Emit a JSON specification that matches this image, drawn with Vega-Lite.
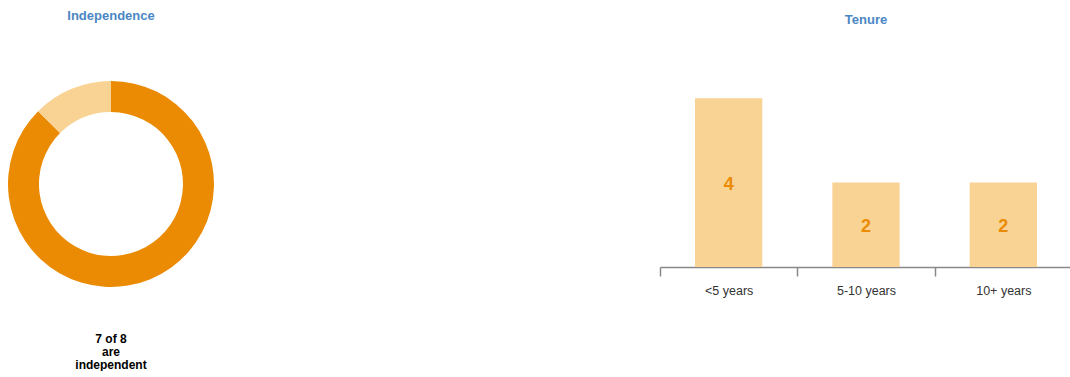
{
  "$schema": "https://vega.github.io/schema/vega-lite/v6.json",
  "padding": {"left": 0, "top": 10, "right": 0, "bottom": 0},
  "background": "white",
  "config": {"view": {"stroke": null}, "font": "Liberation Sans"},
  "bounds": "flush",
  "spacing": 660,
  "hconcat": [
    {
      "bounds": "flush",
      "spacing": 12,
      "vconcat": [
        {
          "width": 222,
          "height": 256,
          "title": {"text": "Independence", "fontSize": 13, "fontWeight": "bold", "color": "#4a87c4", "anchor": "middle", "offset": 33, "font": "Liberation Sans"},
          "data": {"values": [
            {"group": "Independent", "count": 7},
            {"group": "Not independent", "count": 1}
          ]},
          "mark": {"type": "arc", "outerRadius": 103, "innerRadius": 72},
          "encoding": {
            "theta": {"field": "count", "type": "quantitative", "stack": true},
            "color": {"field": "group", "type": "nominal", "scale": {"domain": ["Independent", "Not independent"], "range": ["#eb8b03", "#f9d394"]}, "legend": null}
          }
        },
        {
          "width": 222,
          "height": 30,
          "data": {"values": [{"caption": "7 of 8\nare\nindependent"}]},
          "mark": {"type": "text", "lineBreak": "\n", "fontSize": 12, "fontWeight": "bold", "color": "#000000", "lineHeight": 13, "baseline": "middle", "align": "center", "font": "Liberation Sans"},
          "encoding": {"text": {"field": "caption", "type": "nominal"}}
        }
      ]
    },
    {
      "width": 412,
      "height": 211,
      "title": {"text": "Tenure", "fontSize": 13, "fontWeight": "bold", "color": "#4a87c4", "anchor": "middle", "offset": 29, "font": "Liberation Sans"},
      "data": {"values": [
        {"tenure": "<5 years", "count": 4},
        {"tenure": "5-10 years", "count": 2},
        {"tenure": "10+ years", "count": 2}
      ]},
      "encoding": {
        "x": {"field": "tenure", "type": "nominal", "sort": null, "title": null,
          "scale": {"paddingInner": 0, "paddingOuter": 0},
          "axis": {"tickBand": "extent", "labelAngle": 0, "labelFontSize": 12.5, "labelColor": "#333333", "labelFont": "Liberation Sans", "labelPadding": 8, "domainColor": "#888888", "tickColor": "#888888", "tickSize": 9, "domainWidth": 1.5, "tickWidth": 1.5}}
      },
      "layer": [
        {
          "mark": {"type": "bar", "color": "#f9d394", "width": {"band": 0.49}},
          "encoding": {"y": {"field": "count", "type": "quantitative", "scale": {"domain": [0, 5], "nice": false}, "axis": null}}
        },
        {
          "mark": {"type": "text", "fontSize": 18, "fontWeight": "bold", "color": "#eb8b03", "baseline": "middle", "dy": 2, "font": "Liberation Sans"},
          "encoding": {
            "y": {"field": "count", "type": "quantitative", "scale": {"domain": [0, 10], "nice": false}, "axis": null},
            "text": {"field": "count", "type": "quantitative"}
          }
        }
      ],
      "resolve": {"scale": {"y": "independent"}}
    }
  ]
}
